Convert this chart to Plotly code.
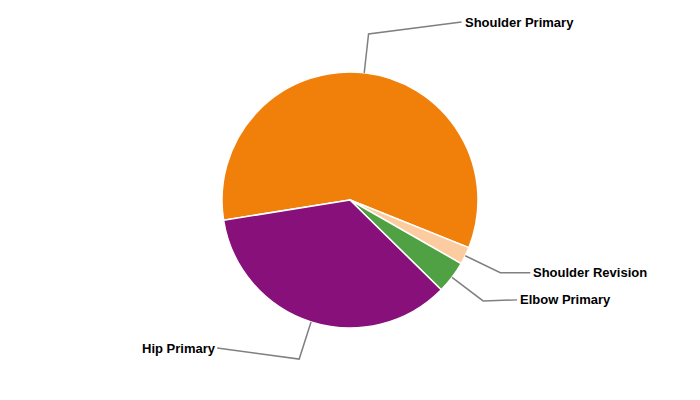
import math
import plotly.graph_objects as go

labels = ["Shoulder Primary", "Shoulder Revision", "Elbow Primary", "Hip Primary"]
values = [58.6, 2.2, 4.1, 35.1]
colors = ["#F0800A", "#FDCBA0", "#50A044", "#87107A"]

W, H = 700, 400
OFF = 8  # page body margin
CX, CY, R = 350 - OFF, 200 - OFF, 128
ROTATION = 260.9
R_OUT = 167
# label offsets from elbow point (style)
label_offsets = [(93, -12, "left"), (30, 0, "left"), (34, -1, "left"), (-82, -11, "right")]

fig = go.Figure(go.Pie(
    labels=labels, values=values, sort=False, direction="clockwise",
    rotation=ROTATION, textinfo="none", hoverinfo="label+percent",
    marker=dict(colors=colors, line=dict(color="white", width=1.5)),
    domain=dict(x=[(CX - R) / W, (CX + R) / W], y=[(H - CY - R) / H, (H - CY + R) / H]),
    showlegend=False,
))

def px(x, y):
    return x / W, 1 - y / H

shapes, annots = [], []
total = sum(values)
start = ROTATION
for lab, v, (dx, dy, anchor) in zip(labels, values, label_offsets):
    mid = math.radians(start + v / total * 360 / 2)
    start += v / total * 360
    x0, y0 = CX + R * math.sin(mid), CY - R * math.cos(mid)
    x1, y1 = CX + R_OUT * math.sin(mid), CY - R_OUT * math.cos(mid)
    x2, y2 = x1 + dx, y1 + dy
    path = "M {} {} L {} {} L {} {}".format(*px(x0, y0), *px(x1, y1), *px(x2, y2))
    shapes.append(dict(type="path", xref="paper", yref="paper", path=path,
                       line=dict(color="#808080", width=1.5)))
    ax = x2 + (1 if anchor == "left" else 1)
    annots.append(dict(x=px(ax, y2)[0], y=px(ax, y2)[1], xref="paper", yref="paper",
                       text="<b>" + lab + "</b>", showarrow=False, xanchor=anchor,
                       yanchor="middle", font=dict(family="Liberation Sans, Arial", size=13, color="#000")))

fig.update_layout(width=W, height=H, margin=dict(l=0, r=0, t=0, b=0),
                  paper_bgcolor="white", plot_bgcolor="white",
                  shapes=shapes, annotations=annots)
fig.write_html("out.html")
